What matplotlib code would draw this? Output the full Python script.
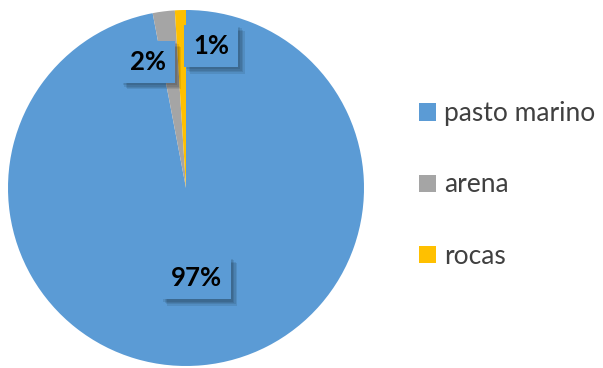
import matplotlib.pyplot as plt
import matplotlib.patheffects as pe
import numpy as np

categorias = ["pasto marino", "arena", "rocas"]
porcentajes = [97, 2, 1]
colores = ["#5B9BD5", "#A5A5A5", "#FFC000"]

# posiciones de las etiquetas (ángulo en grados, radio relativo)
pos_etiquetas = [(-83.7, 0.51), (106.8, 0.74), (80.0, 0.81)]

plt.rcParams["font.family"] = ["Lato", "DejaVu Sans"]

fig = plt.figure(figsize=(6.03, 3.68), dpi=100)
W, H = 603, 368
cx, cy, r = 186, 188, 178
ax = fig.add_axes([(cx - r) / W, (H - cy - r) / H, 2 * r / W, 2 * r / H])

wedges, _ = ax.pie(porcentajes, colors=colores, startangle=90, counterclock=False,
                   radius=1, wedgeprops=dict(linewidth=0))
ax.set_xlim(-1, 1)
ax.set_ylim(-1, 1)
ax.set_aspect("equal")

# sombra difusa: varias capas desplazadas con poca opacidad
sombra = [pe.withSimplePatchShadow(offset=(d, -d), shadow_rgbFace="black", alpha=0.09)
          for d in (4.5, 3.5, 2.5, 1.5)]

for v, (ang, rr) in zip(porcentajes, pos_etiquetas):
    a = np.deg2rad(ang)
    t = ax.text(rr * np.cos(a), rr * np.sin(a), f"{v}%", ha="center", va="center",
                fontsize=18.5, fontweight="bold", color="black",
                bbox=dict(boxstyle="square,pad=0.36", fc=colores[0], ec="none"))
    t.get_bbox_patch().set_path_effects(sombra + [pe.Normal()])

leg = fig.legend(wedges, categorias, loc="center left",
                 bbox_to_anchor=(419 / W, 1 - 185 / H), frameon=False,
                 fontsize=19, handlelength=0.64, handleheight=0.64,
                 handletextpad=0.3, labelspacing=1.75, borderpad=0, borderaxespad=0)
for txt in leg.get_texts():
    txt.set_color("#404040")

fig.savefig("out.png", dpi=100)
